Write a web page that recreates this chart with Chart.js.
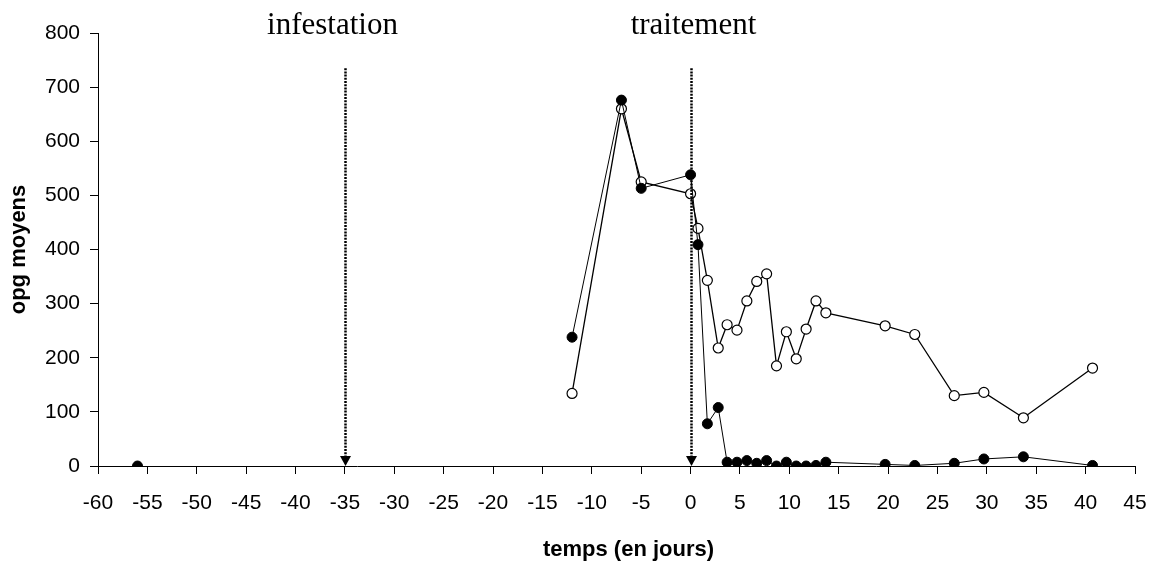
<!DOCTYPE html>
<html>
<head>
<meta charset="utf-8">
<script src="https://cdn.jsdelivr.net/npm/chart.js@4.4.0/dist/chart.umd.min.js"></script>
<style>
  html, body { margin: 0; padding: 0; background: #fff; }
  canvas { display: block; }
</style>
</head>
<body>
<canvas id="chart" width="1154" height="563" style="width:1154px;height:563px"></canvas>
<script>
// Days after treatment (x) and mean opg values (y)
const filledDays = [-12, -7, -5, 0, 0.75, 1.7, 2.8, 3.7, 4.7, 5.7, 6.7, 7.7, 8.7, 9.7, 10.7, 11.7, 12.7, 13.7, 19.7, 22.7, 26.7, 29.7, 33.7, 40.7];
const filledOpg  = [238, 676, 513, 538, 409, 78, 108, 7, 7, 10, 5, 10, 0, 7, 0, 0, 1, 7, 3, 1, 5, 13, 17, 1];

const openDays = [-12, -7, -5, 0, 0.75, 1.7, 2.8, 3.7, 4.7, 5.7, 6.7, 7.7, 8.7, 9.7, 10.7, 11.7, 12.7, 13.7, 19.7, 22.7, 26.7, 29.7, 33.7, 40.7];
const openOpg  = [134, 660, 525, 503, 439, 343, 218, 261, 251, 305, 341, 355, 185, 248, 198, 253, 305, 283, 259, 243, 130, 136, 89, 181];

// isolated point before infestation
const baselineDays = [-56];
const baselineOpg  = [0];

// event markers
const markerDays   = [-35, 0];
const markerLabels = ['infestation', 'traitement'];
const markerTop    = 735;

const xTitle = 'temps (en jours)';
const yTitle = 'opg moyens';

const toPoints = (xs, ys) => xs.map((x, i) => ({ x: x, y: ys[i] }));

// dotted arrows, event labels and x axis title
const markerPlugin = {
    id: 'markers',
    afterDatasetsDraw(chart) {
        const ctx = chart.ctx;
        const xs = chart.scales.x;
        const ys = chart.scales.y;
        ctx.save();
        markerDays.forEach((d, i) => {
            const px = Math.round(xs.getPixelForValue(d)) + 0.5;
            const top = ys.getPixelForValue(markerTop);
            const bottom = ys.getPixelForValue(0);
            ctx.strokeStyle = '#000';
            ctx.lineWidth = 2.5;
            ctx.setLineDash([2, 1.2]);
            ctx.beginPath();
            ctx.moveTo(px, top);
            ctx.lineTo(px, bottom - 9);
            ctx.stroke();
            ctx.setLineDash([]);
            // arrow head
            ctx.fillStyle = '#000';
            ctx.beginPath();
            ctx.moveTo(px - 5.5, bottom - 10);
            ctx.lineTo(px + 5.5, bottom - 10);
            ctx.lineTo(px, bottom);
            ctx.closePath();
            ctx.fill();
            // label
            ctx.font = '31px "Liberation Serif", "Times New Roman", serif';
            ctx.textAlign = 'center';
            ctx.textBaseline = 'alphabetic';
            const shift = i === 0 ? -13 : 2;
            ctx.fillText(markerLabels[i], px + shift, 34);
        });
        // x axis title, sitting a bit right of the plot centre like the original
        const area = chart.chartArea;
        ctx.font = 'bold 22px Arial, "Liberation Sans", sans-serif';
        ctx.textAlign = 'center';
        ctx.textBaseline = 'middle';
        ctx.fillStyle = '#000';
        ctx.fillText(xTitle, (area.left + area.right) / 2 + 12, 550);
        ctx.restore();
    }
};

const ctx = document.getElementById('chart').getContext('2d');
new Chart(ctx, {
    type: 'scatter',
    data: {
        datasets: [{
            label: 'filled',
            data: toPoints(filledDays, filledOpg),
            showLine: true,
            borderColor: '#000',
            borderWidth: 1,
            backgroundColor: '#000',
            pointBackgroundColor: '#000',
            pointBorderColor: '#000',
            pointRadius: 5,
            pointBorderWidth: 1,
            tension: 0
        }, {
            label: 'open',
            data: toPoints(openDays, openOpg),
            showLine: true,
            borderColor: '#000',
            borderWidth: 1.3,
            pointBackgroundColor: '#fff',
            pointBorderColor: '#000',
            pointRadius: 5,
            pointBorderWidth: 1.2,
            tension: 0
        }, {
            label: 'baseline',
            data: toPoints(baselineDays, baselineOpg),
            showLine: false,
            pointBackgroundColor: '#000',
            pointBorderColor: '#000',
            pointRadius: 5
        }]
    },
    options: {
        responsive: false,
        animation: false,
        devicePixelRatio: 1,
        layout: { padding: { top: 33, right: 19, left: 0, bottom: 0 } },
        plugins: {
            legend: { display: false },
            tooltip: { enabled: false }
        },
        scales: {
            x: {
                type: 'linear',
                min: -60,
                max: 45,
                afterFit: (scale) => {
                    scale.height = 97;
                    scale.paddingLeft = 0;
                    scale.paddingRight = 0;
                },
                ticks: {
                    stepSize: 5,
                    color: '#000',
                    padding: 17,
                    maxRotation: 0,
                    autoSkip: false,
                    font: { family: 'Arial, "Liberation Sans", sans-serif', size: 21 }
                },
                grid: { drawOnChartArea: false, tickLength: 8, color: '#000' },
                border: { color: '#000', width: 1 }
            },
            y: {
                min: 0,
                max: 800,
                afterFit: (scale) => {
                    scale.width = 98;
                    scale.paddingTop = 0;
                    scale.paddingBottom = 0;
                },
                ticks: {
                    stepSize: 100,
                    color: '#000',
                    padding: 10,
                    font: { family: 'Arial, "Liberation Sans", sans-serif', size: 21 }
                },
                grid: { drawOnChartArea: false, tickLength: 8, color: '#000' },
                border: { color: '#000', width: 1 },
                title: {
                    display: true,
                    text: yTitle,
                    color: '#000',
                    padding: { bottom: 0, top: 6 },
                    font: { family: 'Arial, "Liberation Sans", sans-serif', size: 22, weight: 'bold' }
                }
            }
        }
    },
    plugins: [markerPlugin]
});
</script>
</body>
</html>
